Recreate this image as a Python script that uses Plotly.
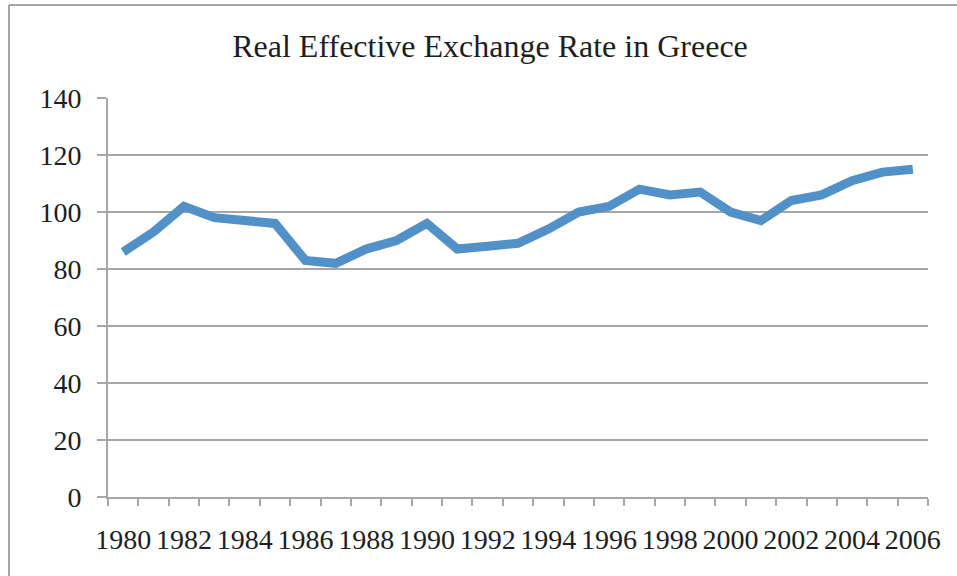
import plotly.graph_objects as go

# Real effective exchange rate index, Greece
years = list(range(1980, 2007))
reer = [86, 93, 102, 98, 97, 96, 83, 82, 87, 90, 96, 87, 88, 89, 94,
        100, 102, 108, 106, 107, 100, 97, 104, 106, 111, 114, 115]

label_years = list(range(1980, 2007, 2))
label_text = [str(y) for y in label_years]
y_ticks = list(range(0, 141, 20))

W, H = 957, 576
L, R, T, B = 108, 928, 98, 497

fig = go.Figure()
fig.add_trace(go.Scatter(
    x=years, y=reer, mode="lines",
    line=dict(color="#5290C8", width=9),
    hoverinfo="x+y", showlegend=False,
))

serif = "Liberation Serif"
grey = "#A6A6A6"
ink = "#1E1E1E"

fig.update_layout(
    width=W, height=H,
    margin=dict(l=L, r=W - R, t=T, b=H - B, pad=0),
    paper_bgcolor="white", plot_bgcolor="white",
    title=dict(text="Real Effective Exchange Rate in Greece",
               font=dict(family=serif, size=32, color=ink),
               x=(490 - L) / (R - L), xanchor="center", xref="paper",
               y=1 - 46 / H, yanchor="middle"),
    xaxis=dict(
        range=[1979.5, 2006.5],
        tickmode="array", tickvals=label_years, ticktext=label_text,
        ticks="", showgrid=False, zeroline=False,
        showline=True, linecolor=grey, linewidth=2,
        tickfont=dict(family=serif, size=28, color=ink),
        ticklabelstandoff=16,
        minor=dict(tick0=1979.5, dtick=1, ticks="outside", ticklen=7,
                   tickcolor=grey, tickwidth=2, showgrid=False),
    ),
    yaxis=dict(
        range=[0, 140], tickmode="array", tickvals=y_ticks,
        showgrid=True, gridcolor=grey, gridwidth=2,
        zeroline=False, showline=True, linecolor=grey, linewidth=2,
        ticks="outside", ticklen=9, tickcolor=grey, tickwidth=2,
        tickfont=dict(family=serif, size=28, color=ink),
        ticklabelstandoff=10,
    ),
)

# chart frame (top and left edges are within the view)
x_left = (9 - L) / (R - L)
y_top = (B - 5) / (B - T)
fig.add_shape(type="line", xref="paper", yref="paper",
              x0=x_left, x1=1.2, y0=y_top, y1=y_top,
              line=dict(color=grey, width=2))
fig.add_shape(type="line", xref="paper", yref="paper",
              x0=x_left, x1=x_left, y0=y_top, y1=-0.3,
              line=dict(color=grey, width=2))

fig.write_html("out.html")
